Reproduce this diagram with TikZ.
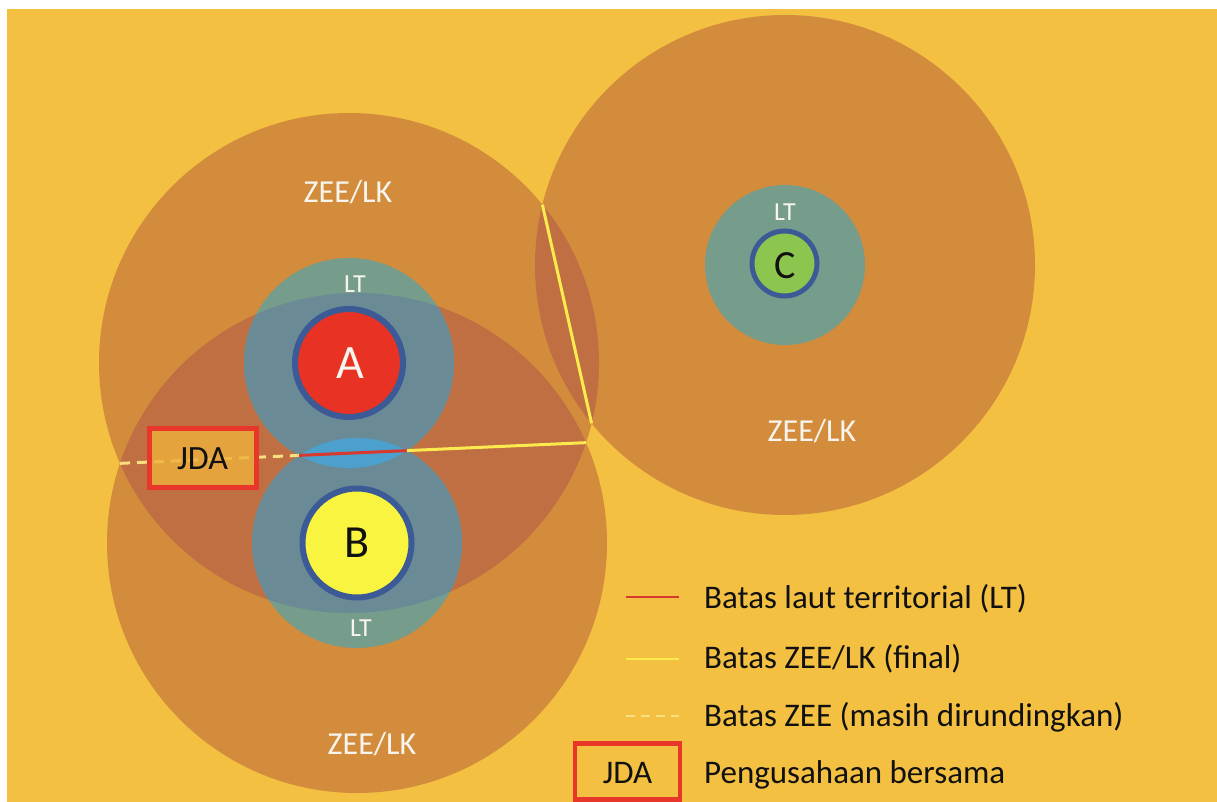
\documentclass[tikz,border=0pt]{standalone}
\usepackage{fontspec}
\setmainfont{Carlito}
\definecolor{bg}{HTML}{F3C042}
\definecolor{zee}{HTML}{D38B3C}
\definecolor{ovl}{HTML}{C06F42}
\definecolor{ltone}{HTML}{769D8C}
\definecolor{lttwo}{HTML}{6A8A96}
\definecolor{lens}{HTML}{4BA0CD}
\definecolor{rimblue}{HTML}{3B5A96}
\definecolor{cred}{HTML}{E83324}
\definecolor{cyel}{HTML}{F8F440}
\definecolor{cgreen}{HTML}{8DC64E}
\definecolor{lineyel}{HTML}{FCEB4E}
\definecolor{dashyel}{HTML}{F9E07E}
\definecolor{linered}{HTML}{D9382E}
\definecolor{boxred}{HTML}{E8372A}
\definecolor{boxfill}{HTML}{EEB13C}
\definecolor{txtwhite}{HTML}{F7F5EE}
\definecolor{txtblack}{HTML}{111111}
\tikzset{
  zeelabel/.style={text=txtwhite, font=\fontsize{32}{36}\selectfont, anchor=base, inner sep=0pt},
  ltlabel/.style={text=txtwhite, font=\fontsize{26}{29}\selectfont, anchor=base, inner sep=0pt},
  legtext/.style={text=txtblack, font=\fontsize{33}{37}\selectfont, anchor=base west, inner sep=0pt},
  finalline/.style={draw=lineyel, line width=3pt},
  talkline/.style={draw=dashyel, line width=3pt, dash pattern=on 10pt off 7pt},
  ltline/.style={draw=linered, line width=3pt},
  jdabox/.style={draw=boxred, line width=5pt},
}
\begin{document}
\begin{tikzpicture}[x=1pt,y=-1pt]
\useasboundingbox (0,0) rectangle (1217,802);
\fill[white] (0,0) rectangle (1217,802);
\fill[bg] (7,9) rectangle (1217,802);

\coordinate (cA) at (349,363);
\coordinate (cB) at (357,543);
\coordinate (cC) at (785,265);

% ZEE circles
\fill[zee] (cA) circle (250pt);
\fill[zee] (cB) circle (250pt);
\fill[zee] (cC) circle (250pt);
\begin{scope}
  \clip (cA) circle (250pt);
  \fill[ovl] (cB) circle (250pt);
  \fill[ovl] (cC) circle (250pt);
\end{scope}

% LT circles
\fill[ltone] (cA) circle (105pt);
\fill[ltone] (cB) circle (105pt);
\fill[ltone] (cC) circle (80pt);
\begin{scope}
  \clip (cB) circle (250pt);
  \fill[lttwo] (cA) circle (105pt);
\end{scope}
\begin{scope}
  \clip (cA) circle (250pt);
  \fill[lttwo] (cB) circle (105pt);
\end{scope}
\begin{scope}
  \clip (cA) circle (105pt);
  \fill[lens] (cB) circle (105pt);
\end{scope}

% boundary lines
\coordinate (abL) at (120.0,463.35);
\coordinate (ltL) at (299.1,455.39);
\coordinate (ltR) at (406.9,450.61);
\coordinate (abR) at (586.0,442.65);
\coordinate (acT) at (542.4,204.6);
\coordinate (acB) at (591.6,423.4);

\draw[talkline] (abL) -- (ltL);
\draw[ltline] (ltL) -- (ltR);
\draw[finalline] (ltR) -- (abR);
\draw[finalline] (acT) -- (acB);

% JDA box on map
\fill[boxfill, fill opacity=0.8] (149.5,428.5) rectangle (256.5,487.5);
\draw[jdabox] (149.5,428.5) rectangle (256.5,487.5);
\node[text=txtblack, font=\fontsize{34}{38}\selectfont, anchor=base, inner sep=0pt] (jda) at (202.5,469) {JDA};

% states
\draw[fill=cred, draw=rimblue, line width=6pt] (cA) circle (54pt);
\draw[fill=cyel, draw=rimblue, line width=6pt] (cB) circle (54.5pt);
\draw[fill=cgreen, draw=rimblue, line width=5pt] (784.5,263.5) circle (32.5pt);

\node[text=txtwhite, font=\fontsize{48}{52}\selectfont, anchor=base, inner sep=0pt] (la) at (350,378.5) {A};
\node[text=txtblack, font=\fontsize{46}{50}\selectfont, anchor=base, inner sep=0pt] (lb) at (357.5,557.5) {B};
\node[text=txtblack, font=\fontsize{40}{44}\selectfont, anchor=base, inner sep=0pt] (lc) at (785,278.5) {C};

% labels
\node[zeelabel] (zA) at (348,203) {ZEE/LK};
\node[zeelabel] (zC) at (812,441) {ZEE/LK};
\node[zeelabel] (zB) at (372,754) {ZEE/LK};
\node[ltlabel] (tA) at (355,292.5) {LT};
\node[ltlabel] (tC) at (785,220.5) {LT};
\node[ltlabel] (tB) at (361,636.5) {LT};

% legend
\coordinate (k1a) at (626,597);  \coordinate (k1b) at (679,597);
\coordinate (k2a) at (626,659);  \coordinate (k2b) at (679,659);
\coordinate (k3a) at (626,716);  \coordinate (k3b) at (679,716);
\draw[draw=linered, line width=2.5pt] (k1a) -- (k1b);
\draw[draw=lineyel, line width=2.5pt] (k2a) -- (k2b);
\draw[draw=dashyel, line width=2.5pt, dash pattern=on 9pt off 6pt] (k3a) -- (k3b);
\node[legtext] (t1) at (704,608.5) {Batas laut territorial (LT)};
\node[legtext] (t2) at (704,668.5) {Batas ZEE/LK (final)};
\node[legtext] (t3) at (704,726.5) {Batas ZEE (masih dirundingkan)};
\node[legtext] (t4) at (704,783) {Pengusahaan bersama};
\draw[jdabox, line width=4.5pt] (575,743.5) rectangle (680,799.5);
\node[text=txtblack, font=\fontsize{33}{37}\selectfont, anchor=base, inner sep=0pt] (jdaleg) at (627.5,783) {JDA};
\end{tikzpicture}
\end{document}
